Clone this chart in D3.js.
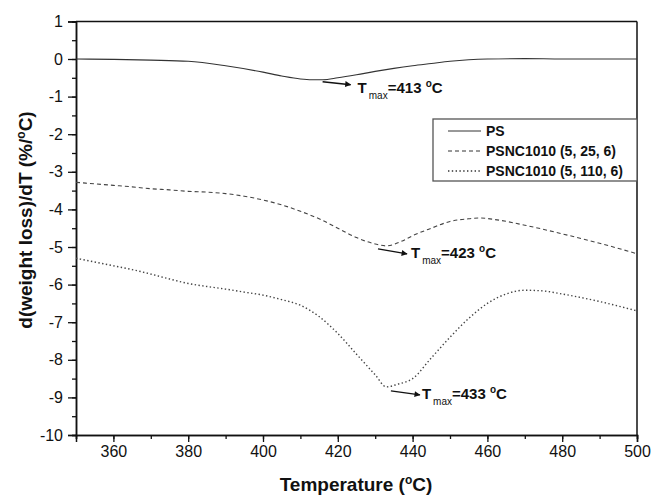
<!DOCTYPE html>
<html><head><meta charset="utf-8">
<script src="https://cdn.jsdelivr.net/npm/d3@7"></script>
<style>body{margin:0;background:#fff}svg{display:block;font-family:"Liberation Sans",Arial,sans-serif}</style>
</head><body>
<svg id="c" width="651" height="499"></svg>
<script>
const temps_PS = [350,360,370,380,390,400,405,410,413,416,420,425,430,435,440,445,450,455,460,470,480,500];
const vals_PS  = [0,-0.01,-0.03,-0.06,-0.18,-0.35,-0.45,-0.53,-0.55,-0.55,-0.5,-0.42,-0.33,-0.25,-0.18,-0.12,-0.06,-0.02,0,0.01,0,0];
const temps_25 = [350,355,360,365,370,375,380,385,390,395,400,405,410,415,420,425,430,433,437,440,445,450,455,458,462,470,480,490,500];
const vals_25  = [-3.28,-3.32,-3.36,-3.4,-3.45,-3.48,-3.52,-3.54,-3.58,-3.65,-3.75,-3.88,-4.05,-4.25,-4.5,-4.75,-4.92,-4.97,-4.85,-4.7,-4.5,-4.32,-4.25,-4.23,-4.27,-4.42,-4.65,-4.9,-5.18];
const temps_110 = [350,355,360,365,370,375,380,385,390,395,400,405,410,415,420,425,430,433,436,440,445,450,455,460,465,470,475,480,490,500];
const vals_110  = [-5.3,-5.4,-5.5,-5.6,-5.72,-5.85,-5.97,-6.05,-6.12,-6.2,-6.28,-6.4,-6.55,-6.85,-7.3,-7.85,-8.4,-8.72,-8.65,-8.5,-7.95,-7.4,-6.9,-6.5,-6.25,-6.15,-6.17,-6.25,-6.45,-6.7];
const seriesNames = ["PS","PSNC1010 (5, 25, 6)","PSNC1010 (5, 110, 6)"];
const xTicks = [360,380,400,420,440,460,480,500];
const yTicks = [1,0,-1,-2,-3,-4,-5,-6,-7,-8,-9,-10];
const annoT = [413,423,433];
const annoV = [-0.55,-4.97,-8.72];
const annoLabels = ["=413 ","=423 ","=433 "];

const svg = d3.select("#c");
const L=76,R=637,T=21.4,B=435;
const x = d3.scaleLinear().domain([350,500]).range([L,R]);
const y = d3.scaleLinear().domain([-10,1]).range([B,T]);

const gx = svg.append("g").attr("transform",`translate(0,${B})`)
  .call(d3.axisBottom(x).tickValues(d3.range(350,501,10)).tickSize(4).tickFormat(""));
const gx2 = svg.append("g").attr("transform",`translate(0,${B})`)
  .call(d3.axisBottom(x).tickValues(xTicks).tickSize(7).tickPadding(4).tickFormat(d3.format("d")));
const gy = svg.append("g").attr("transform",`translate(${L},0)`)
  .call(d3.axisLeft(y).tickValues(d3.range(-10,1.01,0.5)).tickSize(4).tickFormat(""));
const gy2 = svg.append("g").attr("transform",`translate(${L},0)`)
  .call(d3.axisLeft(y).tickValues(yTicks).tickSize(8).tickPadding(5).tickFormat(d3.format("d")));
[gx,gx2,gy,gy2].forEach(g=>{
  g.selectAll(".domain").attr("stroke","#111").attr("stroke-width",1.5);
  g.selectAll(".tick line").attr("stroke","#111").attr("stroke-width",1.3);
  g.selectAll("text").attr("font-size",16).attr("fill","#111").attr("font-family","Liberation Sans, Arial, sans-serif");
});
gy2.selectAll("text").text(d=>d<0?"-"+Math.abs(d):d);
svg.append("line").attr("x1",L).attr("x2",R).attr("y1",T).attr("y2",T).attr("stroke","#111").attr("stroke-width",1.5);
svg.append("line").attr("x1",R).attr("x2",R).attr("y1",T).attr("y2",B).attr("stroke","#111").attr("stroke-width",1.5);

const line = d3.line().x(d=>x(d[0])).y(d=>y(d[1])).curve(d3.curveMonotoneX);
const dashes = [null,"4,3","1.4,2.4"];
const data = [d3.zip(temps_PS,vals_PS), d3.zip(temps_25,vals_25), d3.zip(temps_110,vals_110)];
data.forEach((d,i)=>{
  svg.append("path").datum(d).attr("d",line).attr("fill","none")
    .attr("stroke",i==0?"#333":"#444").attr("stroke-width",i==2?1.4:1.1)
    .attr("stroke-dasharray",dashes[i]);
});

svg.append("rect").attr("x",433).attr("y",119).attr("width",R-433).attr("height",62)
  .attr("fill","#fff").attr("stroke","#555").attr("stroke-width",1.3);
seriesNames.forEach((n,i)=>{
  const yy = 131+i*20;
  svg.append("line").attr("x1",448).attr("x2",481).attr("y1",yy).attr("y2",yy)
    .attr("stroke","#333").attr("stroke-width",i==2?1.3:1).attr("stroke-dasharray",dashes[i]);
  svg.append("text").attr("x",486).attr("y",yy+5).attr("font-size",14).attr("font-weight","bold").attr("fill","#111").text(n);
});

svg.append("defs").append("marker").attr("id","ah").attr("viewBox","0 0 10 10").attr("refX",9).attr("refY",5)
  .attr("markerWidth",9).attr("markerHeight",6).attr("orient","auto").attr("markerUnits","userSpaceOnUse")
  .append("path").attr("d","M0,0L10,5L0,10z").attr("fill","#111");
const arrowStart = [[11,2],[29,3],[4.5,4]];
const arrowVec = [[28,3],[29,5],[29,4]];
const textOff = [[7,8],[4,4],[2,4]];
annoT.forEach((t,i)=>{
  const x0 = x(t)+arrowStart[i][0], y0 = y(annoV[i])+arrowStart[i][1];
  const x1 = x0+arrowVec[i][0], y1 = y0+arrowVec[i][1];
  svg.append("line").attr("x1",x0).attr("y1",y0).attr("x2",x1).attr("y2",y1)
    .attr("stroke","#111").attr("stroke-width",1.5).attr("marker-end","url(#ah)");
  const tx = svg.append("text").attr("x",x1+textOff[i][0]).attr("y",y1+textOff[i][1]).attr("font-size",15).attr("font-weight","bold").attr("fill","#111");
  tx.append("tspan").text("T");
  tx.append("tspan").attr("dx",2).attr("dy",6).attr("font-size",10).attr("font-weight","normal").text("max");
  tx.append("tspan").attr("dy",-6).text(annoLabels[i]);
  tx.append("tspan").attr("dy",-6).attr("font-size",10).text("o");
  tx.append("tspan").attr("dy",6).text("C");
});

const xt = svg.append("text").attr("x",356).attr("y",491).attr("text-anchor","middle")
  .attr("font-size",19).attr("font-weight","bold").attr("fill","#111");
xt.append("tspan").text("Temperature (");
xt.append("tspan").attr("dy",-7).attr("font-size",12).text("o");
xt.append("tspan").attr("dy",7).text("C)");
const yt = svg.append("text").attr("transform",`translate(32,220) rotate(-90)`).attr("text-anchor","middle")
  .attr("font-size",19).attr("font-weight","bold").attr("fill","#111");
yt.append("tspan").text("d(weight loss)/dT (%/");
yt.append("tspan").attr("dy",-7).attr("font-size",12).text("o");
yt.append("tspan").attr("dy",7).text("C)");
</script>
</body></html>
